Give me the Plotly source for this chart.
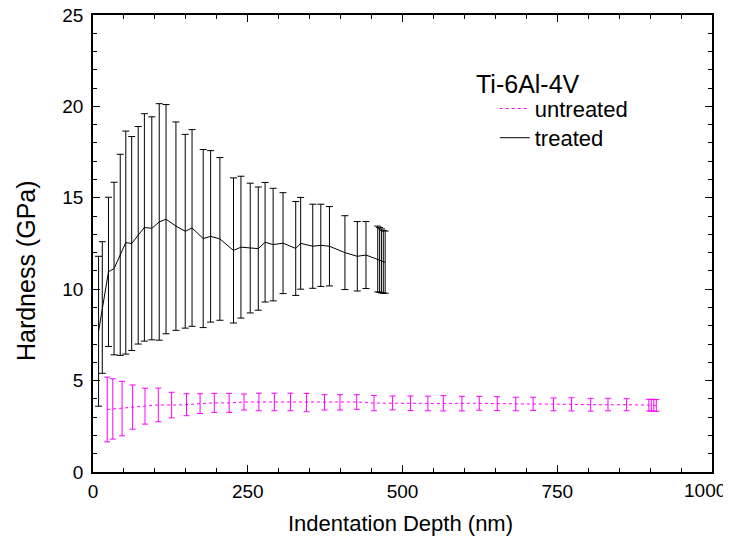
import plotly.graph_objects as go

# Treated Ti-6Al-4V
treated_depth = [9, 15, 25, 34, 44, 53, 62.5, 73, 83, 95, 107, 118, 134, 149, 160, 178, 190, 205,
                 227, 239, 254, 267, 278, 291, 307, 327.5, 335.5, 355, 368, 382, 407, 427, 441,
                 460, 463, 466, 469, 472]
treated_mean = [7.7, 9.0, 10.95, 11.13, 11.88, 12.55, 12.5, 12.95, 13.38, 13.33, 13.68, 13.83, 13.45,
                13.17, 13.35, 12.77, 12.89, 12.75, 12.12, 12.3, 12.25, 12.22, 12.57, 12.44, 12.52,
                12.23, 12.51, 12.35, 12.4, 12.35, 12.0, 11.8, 11.87,
                11.65, 11.6, 11.55, 11.5, 11.48]
treated_err = [4.1, 3.6, 4.08, 4.72, 5.5, 6.1, 5.85, 5.95, 6.22, 6.1, 6.47, 6.27, 5.7, 5.3, 5.38,
               4.87, 4.69, 4.45, 3.97, 3.88, 3.55, 3.37, 3.27, 3.08, 2.76, 2.57, 2.51, 2.3, 2.25,
               2.17, 2.02, 1.9, 1.83, 1.8, 1.77, 1.75, 1.72, 1.7]

# Untreated Ti-6Al-4V
untreated_depth = [23, 32, 47, 64, 84, 105.5, 127, 151, 173, 196, 220, 244, 268, 293, 319, 345,
                   374, 399, 426, 454, 484, 513, 541, 566, 596, 624, 653, 683, 711, 744, 773, 804,
                   832, 862, 898, 902, 906, 910]
untreated_mean = [3.42, 3.45, 3.47, 3.55, 3.6, 3.67, 3.66, 3.68, 3.74, 3.78, 3.78, 3.83, 3.83, 3.83,
                  3.83, 3.8, 3.81, 3.81, 3.83, 3.77, 3.78, 3.76, 3.75, 3.76, 3.74, 3.76, 3.74, 3.72,
                  3.73, 3.7, 3.7, 3.68, 3.69, 3.68, 3.66, 3.65, 3.65, 3.64]
untreated_err = [1.77, 1.65, 1.49, 1.21, 0.98, 0.92, 0.7, 0.6, 0.54, 0.52, 0.52, 0.44, 0.48, 0.48,
                 0.48, 0.5, 0.42, 0.42, 0.4, 0.42, 0.38, 0.4, 0.4, 0.42, 0.4, 0.38, 0.38, 0.37,
                 0.36, 0.35, 0.36, 0.35, 0.34, 0.33, 0.32, 0.32, 0.32, 0.32]

x_ticks = [0, 250, 500, 750, 1000]
y_ticks = [0, 5, 10, 15, 20, 25]

FONT = "Liberation Sans, Arial, sans-serif"

fig = go.Figure()
fig.add_trace(go.Scatter(
    x=untreated_depth, y=untreated_mean, mode="lines", name="untreated", legend="legend",
    line=dict(color="#FF00FF", width=1, dash="dot"),
    error_y=dict(type="data", array=untreated_err, visible=True, color="#FF00FF",
                 thickness=1, width=3),
))
fig.add_trace(go.Scatter(
    x=treated_depth, y=treated_mean, mode="lines", name="treated", legend="legend2",
    line=dict(color="black", width=1),
    error_y=dict(type="data", array=treated_err, visible=True, color="black",
                 thickness=1, width=3.5),
))

axis_common = dict(
    showline=True, linecolor="black", linewidth=1.5, mirror="allticks",
    ticks="inside", ticklen=7, tickwidth=1, tickcolor="black",
    showgrid=False, zeroline=False, automargin=False,
    ticklabeloverflow="allow",
    tickfont=dict(family=FONT, size=19, color="black"),
)

# the last x label sits at the window edge; it is drawn right-aligned as an annotation
x_ticktext = [str(v) for v in x_ticks[:-1]] + [""]

fig.update_xaxes(
    range=[0, 1000], tickvals=x_ticks, ticktext=x_ticktext,
    minor=dict(dtick=50, ticks="inside", ticklen=4, tickcolor="black", showgrid=False),
    ticklabelstandoff=1,
    **axis_common,
)
fig.update_yaxes(
    range=[0, 25], tickvals=y_ticks, ticktext=[str(v) for v in y_ticks],
    minor=dict(dtick=1, ticks="inside", ticklen=4, tickcolor="black", showgrid=False),
    ticklabelstandoff=4,
    **axis_common,
)

legend_common = dict(
    xanchor="left", yanchor="middle", bgcolor="rgba(0,0,0,0)", borderwidth=0,
    font=dict(family=FONT, size=22, color="black"),
)

fig.update_layout(
    width=723, height=532,
    margin=dict(l=85, r=19, t=7, b=68),
    paper_bgcolor="white", plot_bgcolor="white",
    font=dict(family=FONT, color="black"),
    showlegend=True,
    legend=dict(x=0.649, y=0.795, **legend_common),
    legend2=dict(x=0.649, y=0.731, **legend_common),
    annotations=[
        dict(text=str(x_ticks[-1]), xref="paper", yref="paper", x=1.025, y=-0.0405,
             xanchor="right", yanchor="middle", showarrow=False, borderpad=0,
             font=dict(family=FONT, size=19, color="black")),
        dict(text="Ti-6Al-4V", xref="paper", yref="paper", x=0.617, y=0.848,
             xanchor="left", yanchor="middle", showarrow=False, borderpad=0,
             font=dict(family=FONT, size=25, color="black")),
        dict(text="Indentation Depth (nm)", xref="paper", yref="paper", x=0.497, y=-0.112,
             xanchor="center", yanchor="middle", showarrow=False,
             font=dict(family=FONT, size=22, color="black")),
        dict(text="Hardness (GPa)", xref="paper", yref="paper", x=-0.108, y=0.44,
             xanchor="center", yanchor="middle", showarrow=False, textangle=-90,
             font=dict(family=FONT, size=25, color="black")),
    ],
)

fig.write_html("out.html")
